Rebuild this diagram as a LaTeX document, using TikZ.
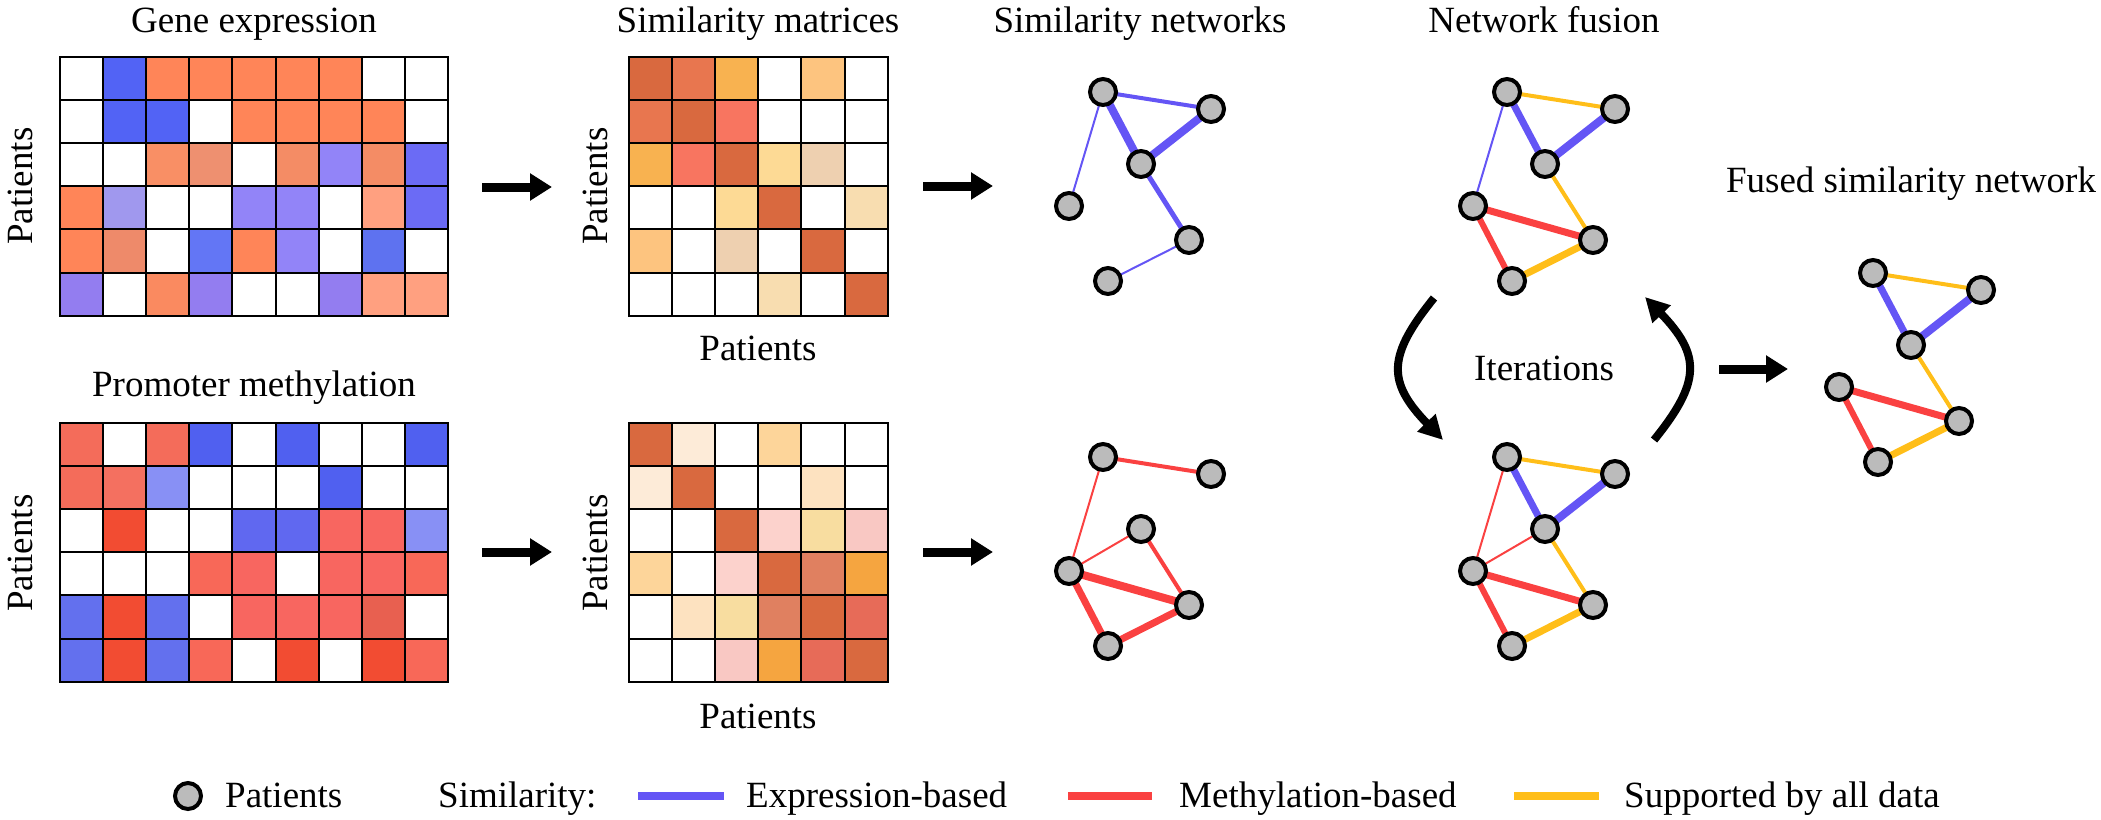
\documentclass[tikz,border=0pt]{standalone}
\usepackage{fontspec}
\setmainfont{Liberation Serif}
\usetikzlibrary{arrows.meta,backgrounds}
% edge / node colours
\definecolor{cblue}{RGB}{100,85,245}
\definecolor{cred}{RGB}{250,65,65}
\definecolor{cyel}{RGB}{255,190,25}
\definecolor{ngray}{RGB}{187,187,187}
% gene expression
\definecolor{B1}{RGB}{82,99,245}
\definecolor{O1}{RGB}{255,133,88}
\definecolor{O2}{RGB}{249,143,101}
\definecolor{S1}{RGB}{238,144,112}
\definecolor{O3}{RGB}{244,140,101}
\definecolor{L1}{RGB}{146,132,248}
\definecolor{B2}{RGB}{107,107,245}
\definecolor{G1}{RGB}{160,152,238}
\definecolor{LS}{RGB}{255,160,128}
\definecolor{S2}{RGB}{238,138,106}
\definecolor{B3}{RGB}{99,118,245}
\definecolor{B4}{RGB}{94,114,240}
\definecolor{P1}{RGB}{147,125,240}
\definecolor{O4}{RGB}{250,138,96}
% methylation
\definecolor{R1}{RGB}{244,108,90}
\definecolor{R2}{RGB}{244,112,96}
\definecolor{LB}{RGB}{136,144,245}
\definecolor{BM}{RGB}{80,96,240}
\definecolor{RR}{RGB}{242,76,50}
\definecolor{BB}{RGB}{96,104,240}
\definecolor{R3}{RGB}{248,102,96}
\definecolor{R4}{RGB}{248,104,88}
\definecolor{B5}{RGB}{99,112,238}
\definecolor{R5}{RGB}{232,96,80}
% similarity
\definecolor{dk}{RGB}{217,105,63}
\definecolor{m1}{RGB}{232,118,79}
\definecolor{or1}{RGB}{248,178,80}
\definecolor{lo}{RGB}{253,196,127}
\definecolor{sal}{RGB}{248,117,96}
\definecolor{ly}{RGB}{253,218,149}
\definecolor{be}{RGB}{238,208,176}
\definecolor{lb}{RGB}{248,221,176}
\definecolor{pe1}{RGB}{253,235,216}
\definecolor{lo2}{RGB}{253,213,154}
\definecolor{pe2}{RGB}{253,226,192}
\definecolor{pk}{RGB}{252,210,204}
\definecolor{yl2}{RGB}{248,221,160}
\definecolor{pk2}{RGB}{249,200,195}
\definecolor{md}{RGB}{224,128,96}
\definecolor{or2}{RGB}{245,165,64}
\definecolor{rd}{RGB}{231,107,88}

\newcommand\cellrow[3]{% x0, ytop, colour list
  \foreach \c [count=\i from 0] in {#3} {
    \filldraw[fill=\c, draw=black, line width=2pt] (#1+\i*43.1, #2) rectangle ++(43.1,43.1);
  }}

\newcommand\mknet[3]{%
  \node[pat] (#1a) at (1103+#2, 92+#3) {};
  \node[pat] (#1b) at (1211+#2, 109+#3) {};
  \node[pat] (#1c) at (1141+#2, 164+#3) {};
  \node[pat] (#1d) at (1069+#2, 206+#3) {};
  \node[pat] (#1e) at (1189+#2, 240+#3) {};
  \node[pat] (#1f) at (1108+#2, 281+#3) {};}

\begin{document}
\begin{tikzpicture}[x=1pt,y=-1pt,
  pat/.style={circle, fill=ngray, draw=black, line width=4pt, minimum size=26pt, inner sep=0pt},
  lbl/.style={font=\fontsize{37}{44}\selectfont, inner sep=0pt},
  bigarrow/.style={line width=9pt, -{Triangle[length=22pt,width=26pt]}},
  curvarrow/.style={line width=8pt, -{Triangle[length=24pt,width=24pt]}},
  eb/.style={draw=cblue}, er/.style={draw=cred}, ey/.style={draw=cyel}]

\useasboundingbox (0,0) rectangle (2101,819);

% ---------- titles ----------
\node[lbl, anchor=base] (tge) at (254,32) {Gene expression};
\node[lbl, anchor=base] (tsm) at (758,32) {Similarity matrices};
\node[lbl, anchor=base] (tsn) at (1140,32) {Similarity networks};
\node[lbl, anchor=base] (tnf) at (1544,32) {Network fusion};
\node[lbl, anchor=base] (tfs) at (1911,192) {Fused similarity network};
\node[lbl, anchor=base] (tpm) at (254,396) {Promoter methylation};
\node[lbl, anchor=base] (tit) at (1544,380) {Iterations};

\node[lbl, rotate=90] (p1) at (20,186) {Patients};
\node[lbl, rotate=90] (p2) at (20,553) {Patients};
\node[lbl, rotate=90] (p3) at (595,186) {Patients};
\node[lbl, rotate=90] (p4) at (595,553) {Patients};
\node[lbl, anchor=base] (p5) at (758,360) {Patients};
\node[lbl, anchor=base] (p6) at (758,728) {Patients};

% ---------- gene expression ----------
\cellrow{60}{57}{white,B1,O1,O1,O1,O1,O1,white,white}
\cellrow{60}{100.1}{white,B1,B1,white,O1,O1,O1,O1,white}
\cellrow{60}{143.2}{white,white,O2,S1,white,O3,L1,O3,B2}
\cellrow{60}{186.3}{O1,G1,white,white,L1,L1,white,LS,B2}
\cellrow{60}{229.4}{O1,S2,white,B3,O1,L1,white,B4,white}
\cellrow{60}{272.5}{P1,white,O4,P1,white,white,P1,LS,LS}

% ---------- promoter methylation ----------
\cellrow{60}{423}{R1,white,R1,BM,white,BM,white,white,BM}
\cellrow{60}{466.1}{R1,R2,LB,white,white,white,BM,white,white}
\cellrow{60}{509.2}{white,RR,white,white,BB,BB,R3,R3,LB}
\cellrow{60}{552.3}{white,white,white,R4,R3,white,R3,R3,R4}
\cellrow{60}{595.4}{B5,RR,B5,white,R3,R3,R3,R5,white}
\cellrow{60}{638.5}{B5,RR,B5,R4,white,RR,white,RR,R4}

% ---------- similarity matrix (expression) ----------
\cellrow{629}{57}{dk,m1,or1,white,lo,white}
\cellrow{629}{100.1}{m1,dk,sal,white,white,white}
\cellrow{629}{143.2}{or1,sal,dk,ly,be,white}
\cellrow{629}{186.3}{white,white,ly,dk,white,lb}
\cellrow{629}{229.4}{lo,white,be,white,dk,white}
\cellrow{629}{272.5}{white,white,white,lb,white,dk}

% ---------- similarity matrix (methylation) ----------
\cellrow{629}{423}{dk,pe1,white,lo2,white,white}
\cellrow{629}{466.1}{pe1,dk,white,white,pe2,white}
\cellrow{629}{509.2}{white,white,dk,pk,yl2,pk2}
\cellrow{629}{552.3}{lo2,white,pk,dk,md,or2}
\cellrow{629}{595.4}{white,pe2,yl2,md,dk,rd}
\cellrow{629}{638.5}{white,white,pk2,or2,rd,dk}

% ---------- straight arrows ----------
\coordinate (a1s) at (482,187);  \coordinate (a1e) at (552,187);
\coordinate (a2s) at (482,552);  \coordinate (a2e) at (552,552);
\coordinate (a3s) at (923,186);  \coordinate (a3e) at (993,186);
\coordinate (a4s) at (923,552);  \coordinate (a4e) at (993,552);
\coordinate (a5s) at (1719,369); \coordinate (a5e) at (1788,369);
\draw[bigarrow] (a1s) -- (a1e);
\draw[bigarrow] (a2s) -- (a2e);
\draw[bigarrow] (a3s) -- (a3e);
\draw[bigarrow] (a4s) -- (a4e);
\draw[bigarrow] (a5s) -- (a5e);

% ---------- curved iteration arrows ----------
\coordinate (c1s) at (1434,298); \coordinate (c1e) at (1443,440);
\coordinate (c2s) at (1654,440); \coordinate (c2e) at (1645,297);
\draw[curvarrow] (c1s) .. controls (1387,356) and (1387,382) .. (c1e);
\draw[curvarrow] (c2s) .. controls (1701,382) and (1701,355) .. (c2e);

% ---------- networks ----------
\mknet{sa}{0}{0}
\mknet{sb}{0}{365}
\mknet{fa}{404}{0}
\mknet{fb}{404}{365}
\mknet{fu}{770}{181}

\begin{scope}[on background layer]
  % similarity network: expression
  \draw[eb, line width=4pt] (saa.center) -- (sab.center);
  \draw[eb, line width=8pt] (saa.center) -- (sac.center);
  \draw[eb, line width=8pt] (sab.center) -- (sac.center);
  \draw[eb, line width=2pt] (saa.center) -- (sad.center);
  \draw[eb, line width=5pt] (sac.center) -- (sae.center);
  \draw[eb, line width=2pt] (sae.center) -- (saf.center);
  % similarity network: methylation
  \draw[er, line width=4pt] (sba.center) -- (sbb.center);
  \draw[er, line width=2pt] (sba.center) -- (sbd.center);
  \draw[er, line width=2pt] (sbd.center) -- (sbc.center);
  \draw[er, line width=4pt] (sbc.center) -- (sbe.center);
  \draw[er, line width=8pt] (sbd.center) -- (sbe.center);
  \draw[er, line width=7pt] (sbd.center) -- (sbf.center);
  \draw[er, line width=7pt] (sbf.center) -- (sbe.center);
  % fusion top
  \draw[ey, line width=4pt] (faa.center) -- (fab.center);
  \draw[eb, line width=7pt] (faa.center) -- (fac.center);
  \draw[eb, line width=8pt] (fab.center) -- (fac.center);
  \draw[eb, line width=2pt] (faa.center) -- (fad.center);
  \draw[ey, line width=4pt] (fac.center) -- (fae.center);
  \draw[er, line width=7pt] (fad.center) -- (fae.center);
  \draw[er, line width=6pt] (fad.center) -- (faf.center);
  \draw[ey, line width=7pt] (faf.center) -- (fae.center);
  % fusion bottom
  \draw[ey, line width=4pt] (fba.center) -- (fbb.center);
  \draw[eb, line width=7pt] (fba.center) -- (fbc.center);
  \draw[eb, line width=8pt] (fbb.center) -- (fbc.center);
  \draw[er, line width=2pt] (fba.center) -- (fbd.center);
  \draw[er, line width=2pt] (fbd.center) -- (fbc.center);
  \draw[ey, line width=4pt] (fbc.center) -- (fbe.center);
  \draw[er, line width=7pt] (fbd.center) -- (fbe.center);
  \draw[er, line width=6pt] (fbd.center) -- (fbf.center);
  \draw[ey, line width=7pt] (fbf.center) -- (fbe.center);
  % fused network
  \draw[ey, line width=4pt] (fua.center) -- (fub.center);
  \draw[eb, line width=7pt] (fua.center) -- (fuc.center);
  \draw[eb, line width=8pt] (fub.center) -- (fuc.center);
  \draw[ey, line width=4pt] (fuc.center) -- (fue.center);
  \draw[er, line width=7pt] (fud.center) -- (fue.center);
  \draw[er, line width=6pt] (fud.center) -- (fuf.center);
  \draw[ey, line width=7pt] (fuf.center) -- (fue.center);
\end{scope}

% ---------- legend ----------
\node[pat] (lp) at (188,796) {};
\node[lbl, anchor=base west] (lpt) at (225,807) {Patients};
\node[lbl, anchor=base west] (lst) at (438,807) {Similarity:};
\coordinate (lb1) at (638,796); \coordinate (lb2) at (724,796);
\coordinate (lr1) at (1068,796); \coordinate (lr2) at (1152,796);
\coordinate (ly1) at (1514,796); \coordinate (ly2) at (1599,796);
\draw[eb, line width=8pt] (lb1) -- (lb2);
\draw[er, line width=8pt] (lr1) -- (lr2);
\draw[ey, line width=8pt] (ly1) -- (ly2);
\node[lbl, anchor=base west] (lbt) at (746,807) {Expression-based};
\node[lbl, anchor=base west] (lrt) at (1179,807) {Methylation-based};
\node[lbl, anchor=base west] (lyt) at (1624,807) {Supported by all data};
\end{tikzpicture}
\end{document}
